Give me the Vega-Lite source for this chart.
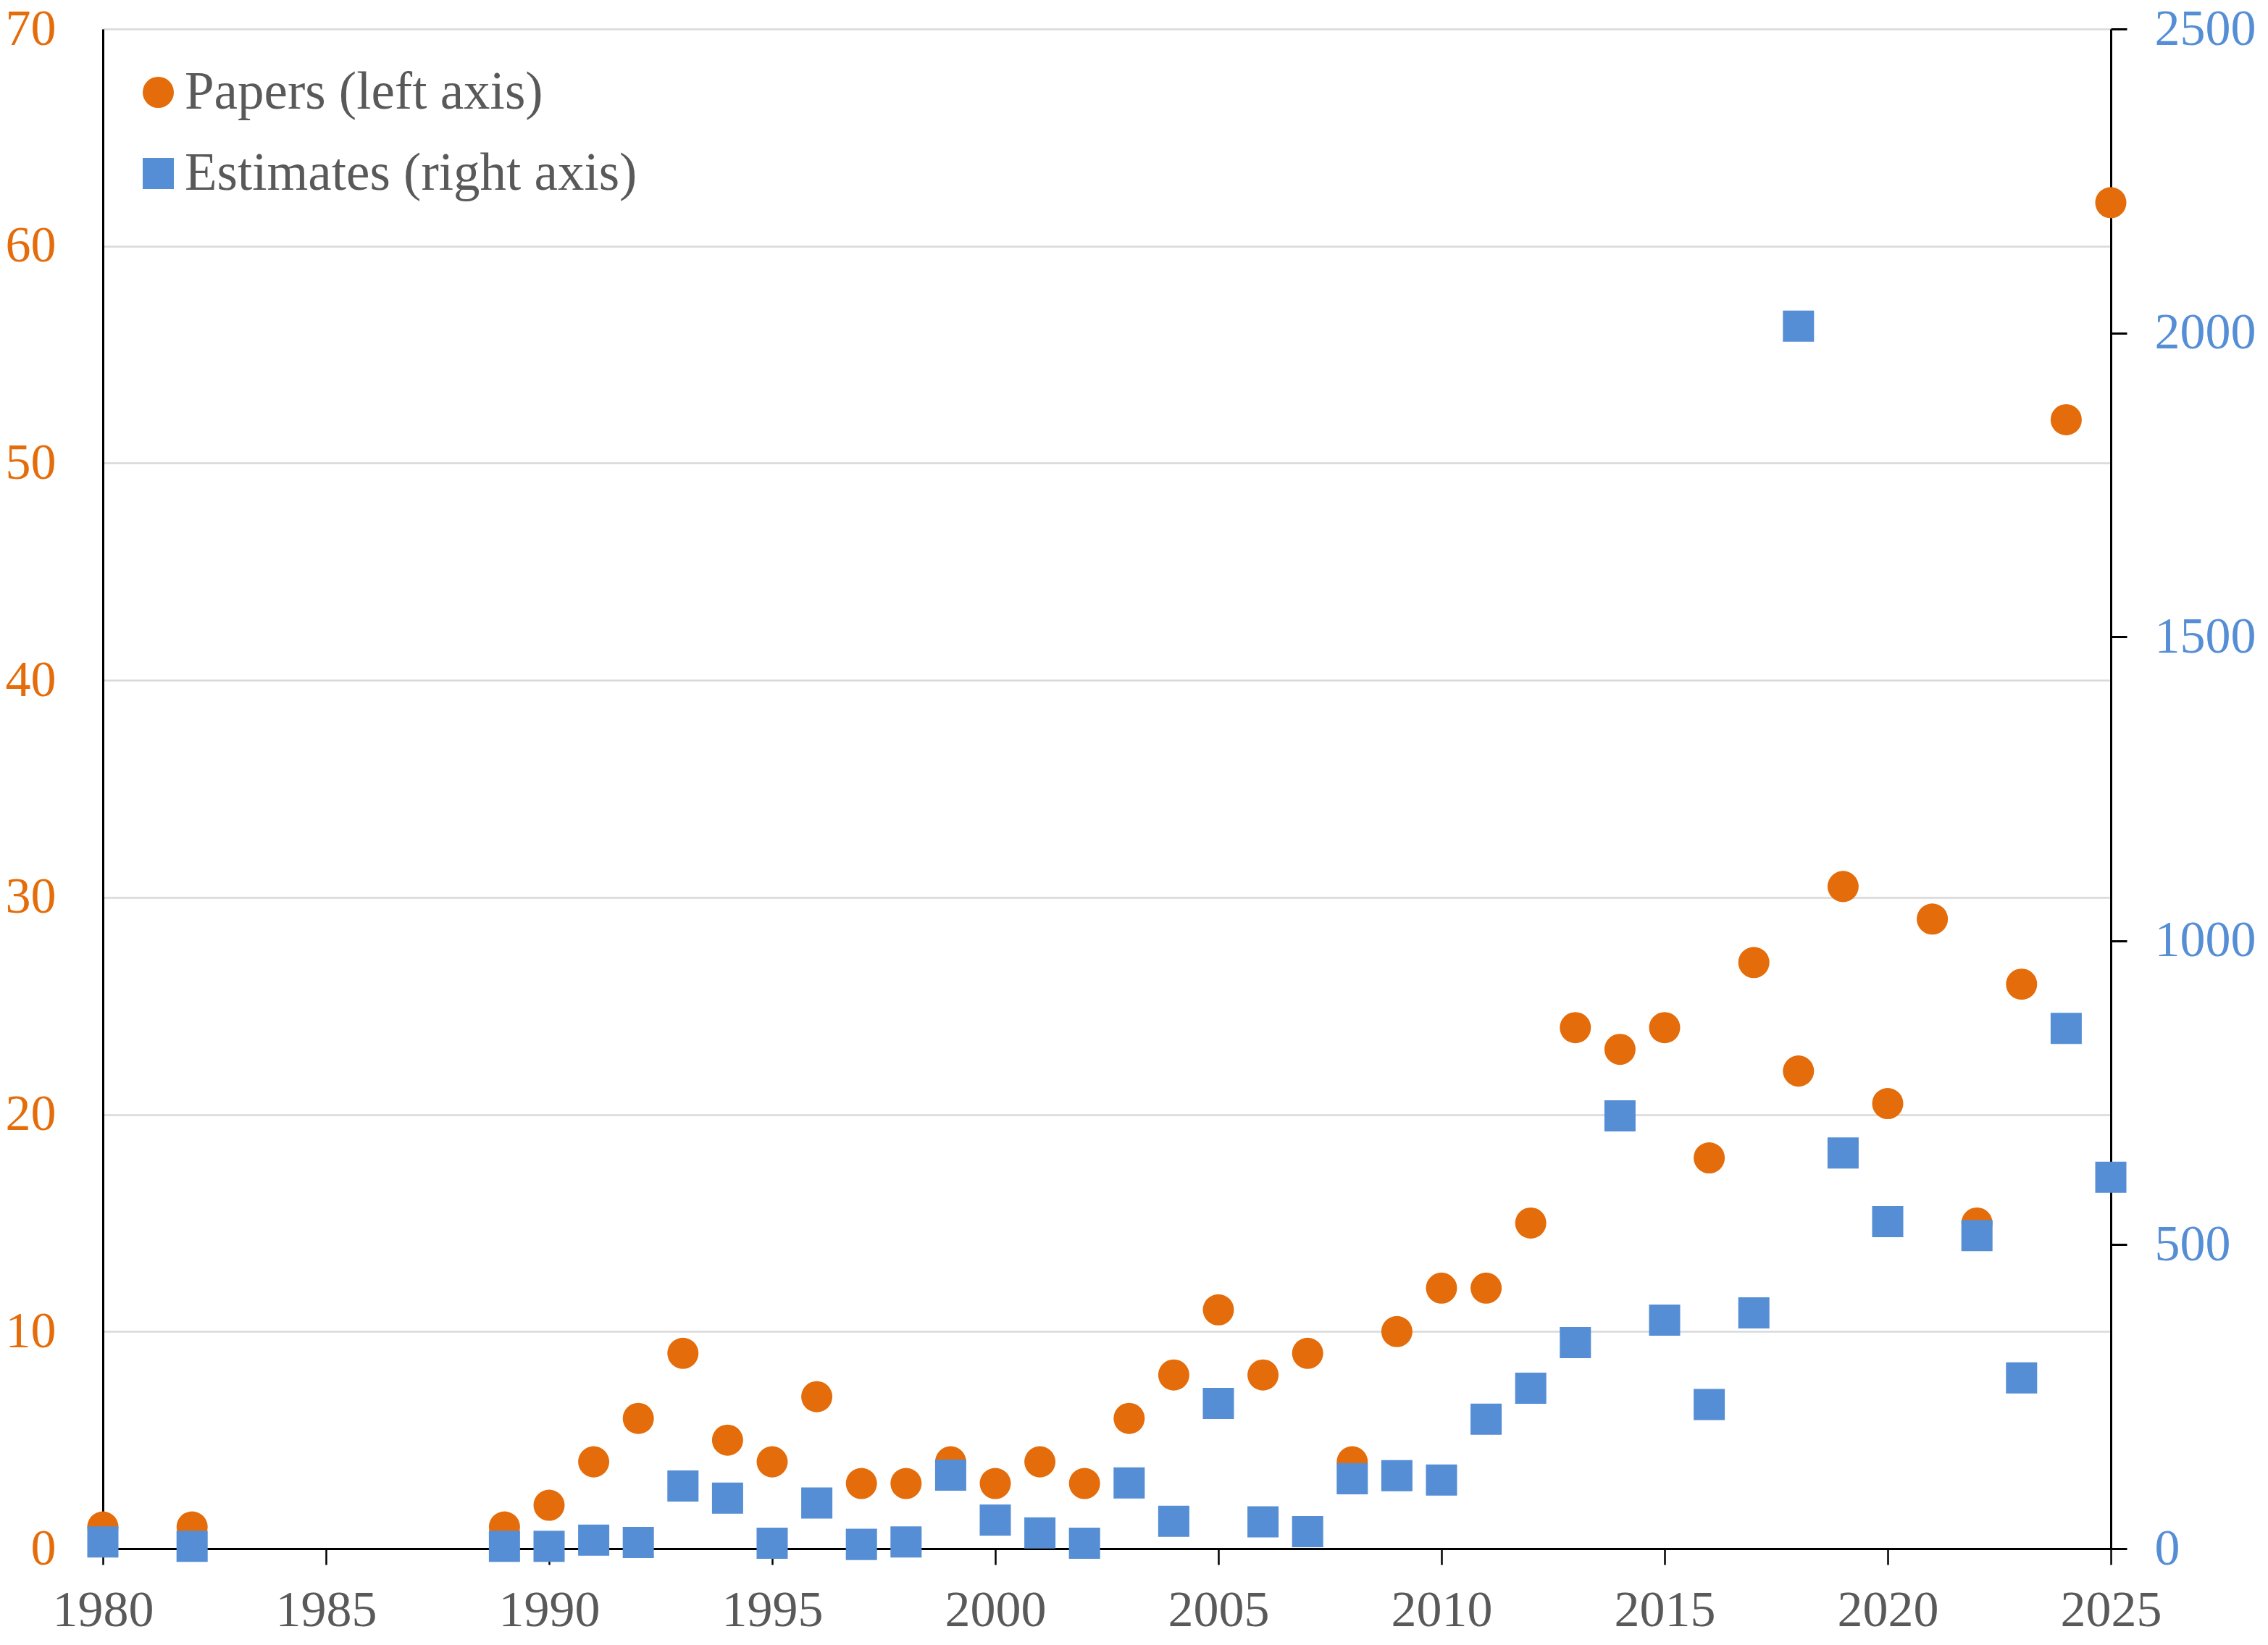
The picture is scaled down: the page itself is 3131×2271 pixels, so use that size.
{
  "$schema": "https://vega.github.io/schema/vega-lite/v6.json",
  "width": 2772,
  "height": 2098,
  "autosize": {"type": "none"},
  "padding": {"left": 142, "top": 40, "right": 217, "bottom": 133},
  "background": "white",
  "config": {"view": {"stroke": null}, "font": "Liberation Serif"},
  "data": {
    "values": [
      {"year": 1980, "series": "Papers (left axis)", "value": 1},
      {"year": 1982, "series": "Papers (left axis)", "value": 1},
      {"year": 1989, "series": "Papers (left axis)", "value": 1},
      {"year": 1990, "series": "Papers (left axis)", "value": 2},
      {"year": 1991, "series": "Papers (left axis)", "value": 4},
      {"year": 1992, "series": "Papers (left axis)", "value": 6},
      {"year": 1993, "series": "Papers (left axis)", "value": 9},
      {"year": 1994, "series": "Papers (left axis)", "value": 5},
      {"year": 1995, "series": "Papers (left axis)", "value": 4},
      {"year": 1996, "series": "Papers (left axis)", "value": 7},
      {"year": 1997, "series": "Papers (left axis)", "value": 3},
      {"year": 1998, "series": "Papers (left axis)", "value": 3},
      {"year": 1999, "series": "Papers (left axis)", "value": 4},
      {"year": 2000, "series": "Papers (left axis)", "value": 3},
      {"year": 2001, "series": "Papers (left axis)", "value": 4},
      {"year": 2002, "series": "Papers (left axis)", "value": 3},
      {"year": 2003, "series": "Papers (left axis)", "value": 6},
      {"year": 2004, "series": "Papers (left axis)", "value": 8},
      {"year": 2005, "series": "Papers (left axis)", "value": 11},
      {"year": 2006, "series": "Papers (left axis)", "value": 8},
      {"year": 2007, "series": "Papers (left axis)", "value": 9},
      {"year": 2008, "series": "Papers (left axis)", "value": 4},
      {"year": 2009, "series": "Papers (left axis)", "value": 10},
      {"year": 2010, "series": "Papers (left axis)", "value": 12},
      {"year": 2011, "series": "Papers (left axis)", "value": 12},
      {"year": 2012, "series": "Papers (left axis)", "value": 15},
      {"year": 2013, "series": "Papers (left axis)", "value": 24},
      {"year": 2014, "series": "Papers (left axis)", "value": 23},
      {"year": 2015, "series": "Papers (left axis)", "value": 24},
      {"year": 2016, "series": "Papers (left axis)", "value": 18},
      {"year": 2017, "series": "Papers (left axis)", "value": 27},
      {"year": 2018, "series": "Papers (left axis)", "value": 22},
      {"year": 2019, "series": "Papers (left axis)", "value": 30.5},
      {"year": 2020, "series": "Papers (left axis)", "value": 20.5},
      {"year": 2021, "series": "Papers (left axis)", "value": 29},
      {"year": 2022, "series": "Papers (left axis)", "value": 15},
      {"year": 2023, "series": "Papers (left axis)", "value": 26},
      {"year": 2024, "series": "Papers (left axis)", "value": 52},
      {"year": 2025, "series": "Papers (left axis)", "value": 62},
      {"year": 1980, "series": "Estimates (right axis)", "value": 11},
      {"year": 1982, "series": "Estimates (right axis)", "value": 4},
      {"year": 1989, "series": "Estimates (right axis)", "value": 4},
      {"year": 1990, "series": "Estimates (right axis)", "value": 4},
      {"year": 1991, "series": "Estimates (right axis)", "value": 14},
      {"year": 1992, "series": "Estimates (right axis)", "value": 10},
      {"year": 1993, "series": "Estimates (right axis)", "value": 103},
      {"year": 1994, "series": "Estimates (right axis)", "value": 83},
      {"year": 1995, "series": "Estimates (right axis)", "value": 9},
      {"year": 1996, "series": "Estimates (right axis)", "value": 75},
      {"year": 1997, "series": "Estimates (right axis)", "value": 7},
      {"year": 1998, "series": "Estimates (right axis)", "value": 11},
      {"year": 1999, "series": "Estimates (right axis)", "value": 121},
      {"year": 2000, "series": "Estimates (right axis)", "value": 47},
      {"year": 2001, "series": "Estimates (right axis)", "value": 26},
      {"year": 2002, "series": "Estimates (right axis)", "value": 9},
      {"year": 2003, "series": "Estimates (right axis)", "value": 108},
      {"year": 2004, "series": "Estimates (right axis)", "value": 45},
      {"year": 2005, "series": "Estimates (right axis)", "value": 239},
      {"year": 2006, "series": "Estimates (right axis)", "value": 44},
      {"year": 2007, "series": "Estimates (right axis)", "value": 28},
      {"year": 2008, "series": "Estimates (right axis)", "value": 115},
      {"year": 2009, "series": "Estimates (right axis)", "value": 120},
      {"year": 2010, "series": "Estimates (right axis)", "value": 113},
      {"year": 2011, "series": "Estimates (right axis)", "value": 213},
      {"year": 2012, "series": "Estimates (right axis)", "value": 264},
      {"year": 2013, "series": "Estimates (right axis)", "value": 339},
      {"year": 2014, "series": "Estimates (right axis)", "value": 712},
      {"year": 2015, "series": "Estimates (right axis)", "value": 376},
      {"year": 2016, "series": "Estimates (right axis)", "value": 237},
      {"year": 2017, "series": "Estimates (right axis)", "value": 388},
      {"year": 2018, "series": "Estimates (right axis)", "value": 2011},
      {"year": 2019, "series": "Estimates (right axis)", "value": 651},
      {"year": 2020, "series": "Estimates (right axis)", "value": 538},
      {"year": 2022, "series": "Estimates (right axis)", "value": 515},
      {"year": 2023, "series": "Estimates (right axis)", "value": 281},
      {"year": 2024, "series": "Estimates (right axis)", "value": 856},
      {"year": 2025, "series": "Estimates (right axis)", "value": 611}
    ]
  },
  "encoding": {
    "x": {
      "field": "year",
      "type": "quantitative",
      "scale": {"domain": [1980, 2025], "nice": false, "zero": false},
      "axis": {
        "title": null,
        "values": [1980, 1985, 1990, 1995, 2000, 2005, 2010, 2015, 2020, 2025],
        "format": "d",
        "grid": false,
        "domainColor": "black",
        "domainWidth": 3,
        "tickColor": "black",
        "tickWidth": 2.5,
        "tickSize": 22,
        "labelPadding": 29,
        "labelFont": "Liberation Serif",
        "labelFontSize": 70,
        "labelColor": "#595959",
        "labelFlush": false,
        "labelOverlap": false
      }
    },
    "color": {
      "field": "series",
      "type": "nominal",
      "scale": {"domain": ["Papers (left axis)", "Estimates (right axis)"], "range": ["#E46C0A", "#558ED5"]},
      "legend": {
        "title": null,
        "orient": "none",
        "legendX": 40,
        "legendY": 51,
        "padding": 0,
        "offset": 0,
        "labelFont": "Liberation Serif",
        "labelFontSize": 73,
        "labelColor": "#595959",
        "labelLimit": 0,
        "symbolSize": 1850,
        "symbolStrokeWidth": 0,
        "symbolOpacity": 1,
        "labelOffset": 0,
        "rowPadding": 38
      }
    },
    "shape": {
      "field": "series",
      "type": "nominal",
      "scale": {"domain": ["Papers (left axis)", "Estimates (right axis)"], "range": ["circle", "square"]},
      "legend": {
        "title": null,
        "orient": "none",
        "legendX": 40,
        "legendY": 51,
        "padding": 0,
        "offset": 0,
        "labelFont": "Liberation Serif",
        "labelFontSize": 73,
        "labelColor": "#595959",
        "labelLimit": 0,
        "symbolSize": 1850,
        "symbolStrokeWidth": 0,
        "symbolOpacity": 1,
        "labelOffset": 0,
        "rowPadding": 38
      }
    }
  },
  "layer": [
    {
      "transform": [{"filter": "datum.series === 'Papers (left axis)'"}],
      "mark": {"type": "point", "filled": true, "opacity": 1, "size": 1850, "strokeWidth": 0},
      "encoding": {
        "y": {
          "field": "value",
          "type": "quantitative",
          "scale": {"domain": [0, 70], "nice": false, "zero": true},
          "axis": {
            "orient": "left",
            "title": null,
            "values": [0, 10, 20, 30, 40, 50, 60, 70],
            "format": "d",
            "ticks": false,
            "tickSize": 0,
            "labelPadding": 65,
            "labelFont": "Liberation Serif",
            "labelFontSize": 70,
            "labelColor": "#E46C0A",
            "domainColor": "black",
            "domainWidth": 3,
            "grid": true,
            "gridColor": "#D9D9D9",
            "gridWidth": 2.5
          }
        }
      }
    },
    {
      "transform": [{"filter": "datum.series === 'Estimates (right axis)'"}],
      "mark": {"type": "point", "filled": true, "opacity": 1, "size": 1850, "strokeWidth": 0},
      "encoding": {
        "y": {
          "field": "value",
          "type": "quantitative",
          "scale": {"domain": [0, 2500], "nice": false, "zero": true},
          "axis": {
            "orient": "right",
            "title": null,
            "values": [0, 500, 1000, 1500, 2000, 2500],
            "format": "d",
            "ticks": true,
            "tickSize": 22,
            "tickWidth": 3,
            "tickColor": "black",
            "labelPadding": 38,
            "labelFont": "Liberation Serif",
            "labelFontSize": 70,
            "labelColor": "#558ED5",
            "domainColor": "black",
            "domainWidth": 3,
            "grid": false
          }
        }
      }
    }
  ],
  "resolve": {"scale": {"y": "independent"}}
}
